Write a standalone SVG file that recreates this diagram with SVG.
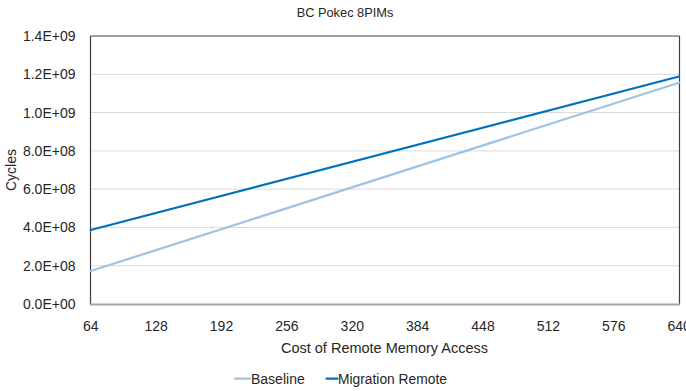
<svg xmlns="http://www.w3.org/2000/svg" width="686" height="391" viewBox="0 0 686 391">
  <style>
    text { font-family: "Liberation Sans", Arial, sans-serif; fill: #262626; }
    .tick { font-size: 14px; }
    .ylab { text-anchor: end; }
    .xlab { text-anchor: middle; }
    .grid { stroke: #D9D9D9; stroke-width: 1; }
    .series { fill: none; stroke-width: 2.25; stroke-linecap: round; }
    .base { stroke: #9DC3E6; }
    .mig { stroke: #0070C0; }
  </style>
  <rect width="686" height="391" fill="#FFFFFF"/>

  <text x="345" y="17" font-size="12.8" text-anchor="middle">BC Pokec 8PIMs</text>

  <!-- horizontal gridlines -->
  <g id="gridlines">
    <line class="grid" x1="91" y1="74.3" x2="679" y2="74.3"/>
    <line class="grid" x1="91" y1="112.6" x2="679" y2="112.6"/>
    <line class="grid" x1="91" y1="150.9" x2="679" y2="150.9"/>
    <line class="grid" x1="91" y1="189.1" x2="679" y2="189.1"/>
    <line class="grid" x1="91" y1="227.4" x2="679" y2="227.4"/>
    <line class="grid" x1="91" y1="265.7" x2="679" y2="265.7"/>
  </g>

  <!-- plot area frame -->
  <g id="frame">
    <line x1="90.5" y1="36" x2="679.5" y2="36" stroke="#404040" stroke-width="1.2"/>
    <line x1="90.5" y1="36" x2="90.5" y2="304" stroke="#404040" stroke-width="1.2"/>
    <line x1="679.5" y1="36" x2="679.5" y2="304" stroke="#404040" stroke-width="1.2"/>
    <line x1="90" y1="304.5" x2="680" y2="304.5" stroke="#A6A6A6" stroke-width="2"/>
  </g>

  <!-- y tick labels -->
  <g id="y-axis" class="tick">
    <text class="ylab" x="75.5" y="41">1.4E+09</text>
    <text class="ylab" x="75.5" y="79.3">1.2E+09</text>
    <text class="ylab" x="75.5" y="117.6">1.0E+09</text>
    <text class="ylab" x="75.5" y="155.9">8.0E+08</text>
    <text class="ylab" x="75.5" y="194.1">6.0E+08</text>
    <text class="ylab" x="75.5" y="232.4">4.0E+08</text>
    <text class="ylab" x="75.5" y="270.7">2.0E+08</text>
    <text class="ylab" x="75.5" y="309">0.0E+00</text>
  </g>
  <text transform="translate(16,170) rotate(-90)" font-size="14" text-anchor="middle">Cycles</text>

  <!-- x tick labels -->
  <g id="x-axis" class="tick">
    <text class="xlab" x="90.7" y="331">64</text>
    <text class="xlab" x="156.1" y="331">128</text>
    <text class="xlab" x="221.5" y="331">192</text>
    <text class="xlab" x="286.9" y="331">256</text>
    <text class="xlab" x="352.3" y="331">320</text>
    <text class="xlab" x="417.6" y="331">384</text>
    <text class="xlab" x="483" y="331">448</text>
    <text class="xlab" x="548.4" y="331">512</text>
    <text class="xlab" x="613.8" y="331">576</text>
    <text class="xlab" x="679.2" y="331">640</text>
  </g>
  <text x="384.5" y="353.3" font-size="14.5" text-anchor="middle">Cost of Remote Memory Access</text>

  <!-- data series -->
  <g id="series">
    <g id="baseline-series">
      <line class="series base" x1="90.7" y1="271" x2="679" y2="82.7"/>
    </g>
    <g id="migration-series">
      <line class="series mig" x1="90.7" y1="230" x2="679" y2="76.5"/>
    </g>
  </g>

  <!-- legend -->
  <g id="legend">
    <g id="legend-baseline">
      <line class="series base" x1="235" y1="378.5" x2="250" y2="378.5" stroke-linecap="butt"/>
      <text x="251" y="383.5" font-size="14">Baseline</text>
    </g>
    <g id="legend-migration">
      <line class="series mig" x1="326.5" y1="378.5" x2="337.5" y2="378.5" stroke-linecap="butt"/>
      <text x="338" y="383.5" font-size="13.8">Migration Remote</text>
    </g>
  </g>
</svg>
